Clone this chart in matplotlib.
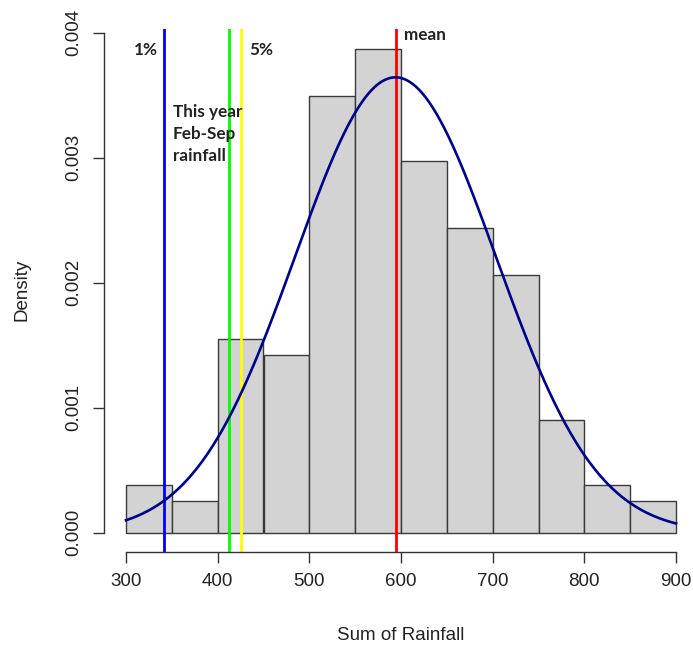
import numpy as np
import matplotlib
matplotlib.use('Agg')
import matplotlib.pyplot as plt

# histogram of Feb-Sep rainfall totals (density scale)
bin_edges = [300, 350, 400, 450, 500, 550, 600, 650, 700, 750, 800, 850, 900]
densities = [0.000384, 0.00025, 0.001547, 0.00142, 0.00349, 0.00387,
             0.00297, 0.00244, 0.00206, 0.0009, 0.000384, 0.00025]

# fitted normal curve
fit_mean = 594
fit_sd = 109.5

# marker lines
line_x = [341.5, 412.8, 425.9, 594]
line_colors = ['#0000FF', '#00FF00', '#FFFF00', '#FF0000']

x_ticks = [300, 400, 500, 600, 700, 800, 900]
y_ticks = [0.0, 0.001, 0.002, 0.003, 0.004]
y_tick_labels = ['0.000', '0.001', '0.002', '0.003', '0.004']

plt.rcParams['font.family'] = ['Liberation Sans', 'DejaVu Sans']

fig = plt.figure(figsize=(6.93, 6.48), dpi=100)
ax = fig.add_axes([104 / 693, 96 / 648, 594 / 693, 523 / 648])

# R-like usr range (4% padding)
ax.set_xlim(276, 924)
ax.set_ylim(-0.000155, 0.00403)

lefts = np.array(bin_edges[:-1])
widths = np.diff(bin_edges)
ax.bar(lefts, densities, width=widths, align='edge', color='#D3D3D3',
       edgecolor='#3a3a3a', linewidth=1.0, zorder=1)

xs = np.linspace(300, 900, 400)
pdf = np.exp(-0.5 * ((xs - fit_mean) / fit_sd) ** 2) / (fit_sd * np.sqrt(2 * np.pi))
ax.plot(xs, pdf, color='#00008B', linewidth=1.9, zorder=3)

for xv, c in zip(line_x, line_colors):
    ax.axvline(xv, color=c, linewidth=2.0, zorder=2)

lab_font = dict(family=['Lato', 'DejaVu Sans'], fontweight='bold', fontsize=12.3,
                color='#222222')
ax.text(321.8, 0.003864, '1%', ha='center', va='center', **lab_font)
ax.text(448, 0.003864, '5%', ha='center', va='center', **lab_font)
ax.text(626, 0.00398, 'mean', ha='center', va='center', **lab_font)
ax.text(351, 0.00343, 'This year\nFeb-Sep\nrainfall', ha='left', va='top',
        linespacing=1.45, **lab_font)

# axes in R style
for s in ['top', 'right']:
    ax.spines[s].set_visible(False)
ax.spines['left'].set_bounds(0, 0.004)
ax.spines['bottom'].set_bounds(300, 900)
for s in ['left', 'bottom']:
    ax.spines[s].set_color('#333333')
    ax.spines[s].set_linewidth(1.0)

ax.set_xticks(x_ticks)
ax.set_yticks(y_ticks)
ax.set_yticklabels(y_tick_labels, rotation=90, va='center')
ax.tick_params(axis='both', direction='out', length=8, width=1.0,
               color='#333333', labelsize=13.5, labelcolor='#222222')
ax.tick_params(axis='y', pad=8)
ax.tick_params(axis='x', pad=7)

fig.text(22 / 693, 1 - 290 / 648, 'Density', rotation=90, ha='center',
         va='center', fontsize=13.5, color='#222222')
fig.text(401 / 693, 1 - 635 / 648, 'Sum of Rainfall', ha='center',
         va='center', fontsize=13.5, color='#222222')

fig.savefig('out.png', dpi=100)
